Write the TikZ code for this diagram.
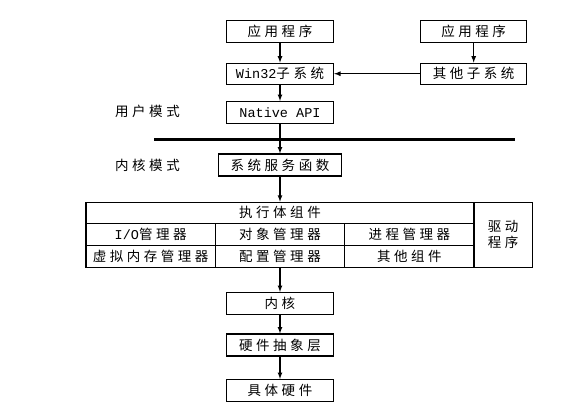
\documentclass[tikz,border=0pt]{standalone}
\usepackage{fontspec}
\usepackage{tikz}
\newfontfamily\cjk[LetterSpace=26]{Noto Sans CJK SC}
\newfontfamily\mono{Liberation Mono}

\begin{document}
\begin{tikzpicture}[x=1pt,y=-1pt,
  box/.style={rectangle,draw,line width=1.2pt,inner sep=0pt,minimum width=107pt,minimum height=22pt,font=\fontsize{13.5}{16}\cjk},
  cell/.style={rectangle,draw,line width=1.2pt,inner sep=0pt,minimum width=129.3pt,minimum height=22pt,font=\fontsize{13.5}{16}\cjk},
  lbl/.style={font=\fontsize{13.5}{16}\cjk},
  arr/.style={-latex,line width=1.2pt}]
\useasboundingbox (0,0) rectangle (565,416);
%\usetikzlibrary{positioning}
\path (280,31.7) node(app)[box]{应用程序}
(473.7,31.7) node(app2)[box,minimum width=106pt]{应用程序}
(280,73.7) node(win)[box,minimum height=21pt]{{\mono\fontsize{13.5}{16}\selectfont Win32}子系统}
(473.7,73.7) node(other)[box,minimum width=106pt,minimum height=21pt]{其他子系统}
(280,112.5) node(native)[box]{\mono\fontsize{13.5}{16}\selectfont Native API}
(147.5,111.7) node(user)[lbl]{用户模式}
(147.5,165) node(kmode)[lbl]{内核模式}
(280,165) node(sys)[box,minimum width=122.7pt]{系统服务函数}
(280,212.8) node(exec)[cell,minimum width=388pt,minimum height=21pt]{执行体组件}
(150.65,234.3) node(io)[cell]{{\mono\fontsize{13.5}{16}\selectfont I/O}管理器}
(280,234.3) node(obj)[cell]{对象管理器}
(409.35,234.3) node(proc)[cell]{进程管理器}
(150.65,256.3) node(vmm)[cell]{虚拟内存管理器}
(280,256.3) node(cfg)[cell]{配置管理器}
(409.35,256.3) node(misc)[cell]{其他组件}
(503.15,234.8) node(drv)[cell,minimum width=58.3pt,minimum height=65pt,align=center]{驱动\\程序}
(280,303.5) node(kern)[box,minimum width=106.7pt]{内核}
(280,345) node(hal)[box]{硬件抽象层}
(280,390.5) node(hw)[box,minimum width=106.7pt]{具体硬件};
\coordinate (sepl) at (154,139.3);
\coordinate (sepr) at (515,139.3);
\draw[line width=3.5pt](sepl)--(sepr);
\draw[arr](app)--(win);
\draw[arr](app2)--(other);
\draw[arr](other)--(win);
\draw[arr](win)--(native);
\draw[arr](native)--(sys);
\draw[arr](sys)--(exec);
\draw[arr](cfg)--(kern);
\draw[arr](kern)--(hal);
\draw[arr](hal)--(hw);
\end{tikzpicture}
\end{document}
